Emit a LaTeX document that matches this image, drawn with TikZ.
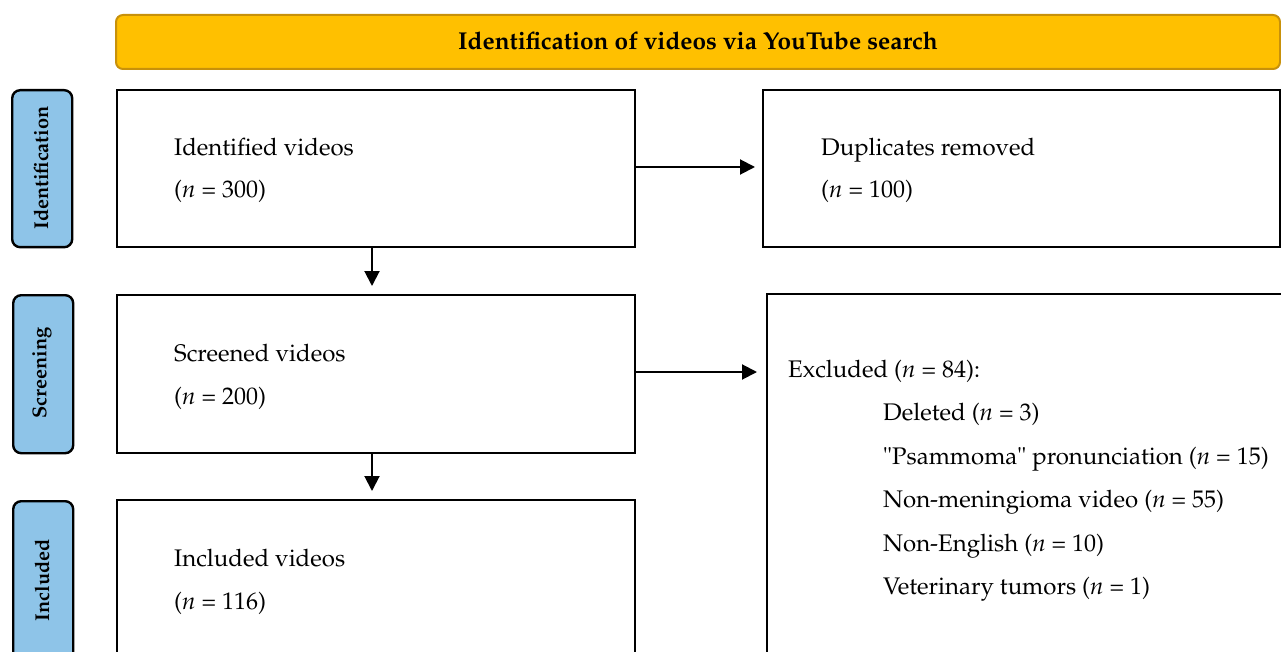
\documentclass[tikz,border=0pt]{standalone}
\usepackage[T1]{fontenc}
\usepackage{mathpazo}
\usetikzlibrary{arrows.meta}
\definecolor{goldfill}{RGB}{255,192,0}
\definecolor{goldline}{RGB}{200,145,10}
\definecolor{stageblue}{RGB}{142,196,232}
\tikzset{
  box/.style={draw=black, line width=2pt, fill=white, rectangle, inner sep=0pt, anchor=north west},
  stage/.style={draw=black, line width=2.4pt, fill=stageblue, rounded corners=8pt, rectangle, inner sep=0pt, anchor=north west},
  stagetext/.style={font=\fontsize{20}{24}\selectfont\bfseries, rotate=90, inner sep=0pt},
  txt/.style={font=\fontsize{24}{28}\selectfont, anchor=base west, inner sep=0pt},
  flow/.style={line width=2pt, -{Triangle[length=15pt,width=15pt]}},
}
\begin{document}
\begin{tikzpicture}[x=1pt,y=-1pt]
\useasboundingbox[clip] (0,0) rectangle (1281,652);
% title bar
\node[draw=goldline, line width=2pt, fill=goldfill, rounded corners=7pt, minimum width=1164pt, minimum height=54pt, anchor=north west, inner sep=0pt] (title) at (115,14) {};
\node[font=\fontsize{24.4}{28}\selectfont\bfseries] (titletext) at (698,41) {Identification of videos via YouTube search};
% stage labels
\node[stage, minimum width=60pt, minimum height=157pt] (sid) at (11,89) {};
\node[stagetext] (sidt) at (41,168) {Identification};
\node[stage, minimum width=60pt, minimum height=158pt] (sscr) at (12,294) {};
\node[stagetext] (sscrt) at (42,373) {Screening};
\node[stage, minimum width=60pt, minimum height=200pt] (sinc) at (12,500) {};
\node[stagetext] (sinct) at (42,580) {Included};
% boxes
\node[box, minimum width=518pt, minimum height=157pt] (ident) at (116,89) {};
\node[box, minimum width=517pt, minimum height=157pt] (dup) at (762,89) {};
\node[box, minimum width=518pt, minimum height=158pt] (scr) at (116,294) {};
\node[box, minimum width=560pt, minimum height=400pt] (exc) at (766,293) {};
\node[box, minimum width=518pt, minimum height=200pt] (inc) at (116,499) {};
% texts
\node[txt] (t1) at (174,156) {Identified videos};
\node[txt] (t2) at (174,198) {(\textit{n} = 300)};
\node[txt] (t3) at (821,156) {Duplicates removed};
\node[txt] (t4) at (821,198) {(\textit{n} = 100)};
\node[txt] (t5) at (174,361) {Screened videos};
\node[txt] (t6) at (174,404) {(\textit{n} = 200)};
\node[txt] (t7) at (174,566) {Included videos};
\node[txt] (t8) at (174,609) {(\textit{n} = 116)};
\node[txt] (e0) at (788,377) {Excluded (\textit{n} = 84):};
\node[txt] (e1) at (883,420) {Deleted (\textit{n} = 3)};
\node[txt] (e2) at (883,464) {"Psammoma" pronunciation (\textit{n} = 15)};
\node[txt] (e3) at (883,507) {Non-meningioma video (\textit{n} = 55)};
\node[txt] (e4) at (883,551) {Non-English (\textit{n} = 10)};
\node[txt] (e5) at (883,594) {Veterinary tumors (\textit{n} = 1)};
% arrows
\draw[flow, shorten >=7pt] (ident.east |- 0,167) -- (dup.west |- 0,167);
\draw[flow, shorten >=8pt] (ident.south -| 372,0) -- (scr.north -| 372,0);
\draw[flow, shorten >=9pt] (scr.east |- 0,372) -- (exc.west |- 0,372);
\draw[flow, shorten >=8pt] (scr.south -| 372,0) -- (inc.north -| 372,0);
\end{tikzpicture}
\end{document}
